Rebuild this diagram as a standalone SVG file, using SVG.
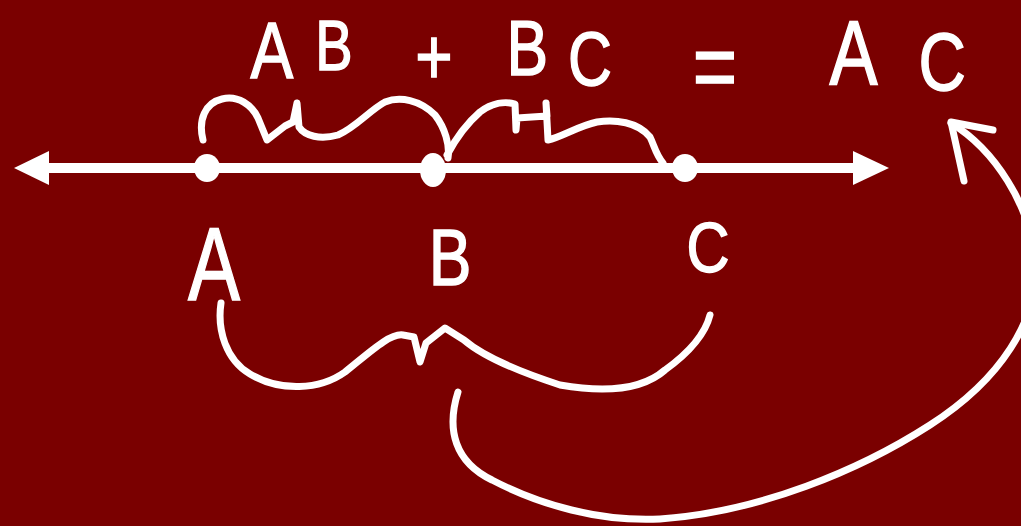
<svg xmlns="http://www.w3.org/2000/svg" width="1021" height="526" viewBox="0 0 1021 526">
<style>
.ink{fill:none;stroke:#fff;stroke-width:7;stroke-linecap:round;stroke-linejoin:round}
.dot{fill:#fff}
.hand{fill:#fff;stroke:#fff;stroke-width:1.5;font-family:"Liberation Sans","DejaVu Sans",sans-serif}
</style>
<rect width="1021" height="526" fill="#7a0000"/>
<g id="number-line">
<line x1="40" y1="168" x2="860" y2="168" stroke="#fff" stroke-width="10"/>
<polygon points="14,168 49,151 49,185" fill="#fff"/>
<polygon points="889,168 853,151 853,185" fill="#fff"/>
</g>
<g id="connectors">
<path class="ink" d="M203,140 C198,120 205,103 222,99 C238,95 252,105 258,118 L267,140 L285,126 L293,122 L297,103 L299,127 C305,136 320,140 338,135 C355,128 370,110 385,102 C400,96 420,100 435,115 C445,128 450,145 448,158"/>
<path class="ink" d="M447,155 C455,140 465,125 480,112 C492,103 505,101 515,104 L516,130 L517,118 L547,116 L546,103 L548,140 C562,137 578,126 597,122 C615,119 638,122 650,137 C654,145 656,155 663,163"/>
<path class="ink" d="M221,303 C217,330 226,360 250,374 C280,392 320,390 345,372 C370,352 390,333 403,335 L414,337 L420,362 L426,343 L445,328 L464,340 C485,358 520,372 560,385 C600,392 640,392 665,370 C690,352 705,335 710,315"/>
<path class="ink" d="M458,392 C446,430 455,462 492,480 C540,505 600,522 660,519 C760,512 860,470 930,425 C1000,380 1040,320 1035,260 C1030,205 995,150 951,123"/>
<path class="ink" d="M993,130 L951,122 L964,181"/>
</g>
<g id="point-A">
<ellipse class="dot" cx="207" cy="168" rx="13" ry="14"/>
<text class="hand" transform="translate(214,300) scale(0.75,1)" x="0" y="0" font-size="104" text-anchor="middle">A</text>
</g>
<g id="point-B">
<ellipse class="dot" cx="433" cy="170" rx="13" ry="17"/>
<text class="hand" transform="translate(450,285) scale(0.8,1)" x="0" y="0" font-size="80" text-anchor="middle">B</text>
</g>
<g id="point-C">
<ellipse class="dot" cx="685" cy="168" rx="13" ry="14"/>
<text class="hand" transform="translate(708,272) scale(0.85,1)" x="0" y="0" font-size="70" text-anchor="middle">C</text>
</g>
<g id="equation">
<text class="hand" transform="scale(0.8,1)"><tspan x="313" y="78" font-size="80">A</tspan><tspan x="394" y="70" font-size="70">B</tspan> <tspan x="519" y="84" font-size="80">+</tspan> <tspan x="633" y="75" font-size="78">B</tspan><tspan x="710" y="85" font-size="76">C</tspan> <tspan x="866" y="99" font-size="95">=</tspan> <tspan x="1037" y="84" font-size="90">A</tspan><tspan x="1148" y="90" font-size="82">C</tspan></text>
</g>
</svg>
